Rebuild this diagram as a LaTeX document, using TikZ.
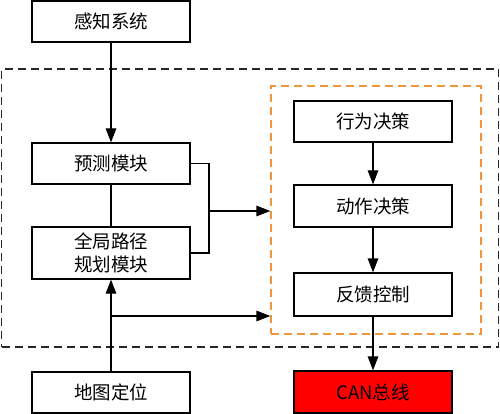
\documentclass[tikz,border=0pt]{standalone}
\usepackage{fontspec}
\setmainfont{Noto Sans CJK SC}
\usetikzlibrary{arrows.meta}
\definecolor{dashorange}{RGB}{240,150,60}
\tikzset{
  box/.style={draw=black, line width=1.2pt, minimum width=158pt, inner sep=0pt, font=\fontsize{18.5}{23}\selectfont, align=center, text=black},
  arr/.style={line width=1.2pt, -{Triangle[length=14pt,width=10.5pt]}},
  ln/.style={line width=1.2pt},
  blackframe/.style={draw=black!85, line width=1.2pt, dash pattern=on 8pt off 5pt, inner sep=0pt},
  orangeframe/.style={draw=dashorange, line width=1.2pt, dash pattern=on 8pt off 5pt, inner sep=0pt},
}
\begin{document}
\begin{tikzpicture}[x=1pt,y=-1pt]
\useasboundingbox (0,0) rectangle (500,414);
\node[blackframe, minimum width=497pt, minimum height=278pt] (outer) at (250,208) {};
\node[orangeframe, minimum width=210pt, minimum height=248pt] (ctrl) at (376,210) {};
\node[box, minimum height=41pt] (perc) at (111,21.5) {感知系统};
\node[box, minimum height=41pt] (pred) at (111,163.5) {预测模块};
\node[box, minimum height=52pt] (glob) at (111,253) {全局路径\\规划模块};
\node[box, minimum height=41pt] (map) at (111,392.5) {地图定位};
\node[box, minimum height=41pt] (beh) at (373,121.5) {行为决策};
\node[box, minimum height=42pt] (act) at (373,206) {动作决策};
\node[box, minimum height=43pt] (fb) at (373,294.5) {反馈控制};
\node[box, minimum height=42pt, fill=red] (can) at (373,392) {CAN总线};
\coordinate (j1) at (209,211);
\coordinate (j2) at (111,316);
\draw[arr] (perc) -- (pred);
\draw[ln] (pred) -- (glob);
\draw[arr] (map) -- (glob);
\draw[ln] (pred.east) -| (j1);
\draw[ln] (glob.east) -| (j1);
\draw[arr] (j1) -- (j1 -| ctrl.west);
\draw[arr] (j2) -- (j2 -| ctrl.west);
\draw[arr] (beh) -- (act);
\draw[arr] (act) -- (fb);
\draw[arr] (fb) -- (can);
\end{tikzpicture}
\end{document}
